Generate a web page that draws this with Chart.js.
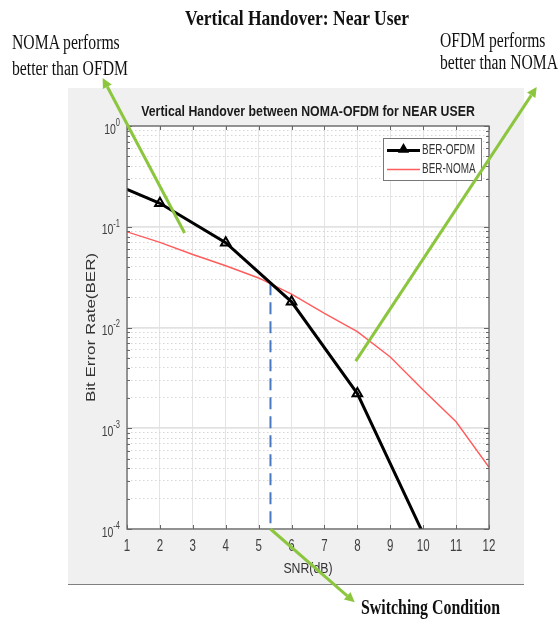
<!DOCTYPE html>
<html>
<head>
<meta charset="utf-8">
<title>Vertical Handover: Near User</title>
<script src="https://cdn.jsdelivr.net/npm/chart.js@4.4.0/dist/chart.umd.min.js"></script>
<style>
  body { margin: 0; background: #fff; }
  #page { position: relative; width: 559px; height: 621px; overflow: hidden; }
  #page canvas { position: absolute; left: 0; top: 0; }
  .note { position: absolute; font-family: "Liberation Serif", "Times New Roman", serif; color: #111; white-space: nowrap; transform-origin: 0 0; }
  .note.bold { font-weight: bold; }
</style>
</head>
<body>
<div id="page">
  <canvas id="berChart" width="559" height="621"></canvas>
  <div class="note bold" data-w="224" style="left:185px; top:5px; font-size:22px; line-height:26px;">Vertical Handover: Near User</div>
  <div class="note" data-w="116" style="left:12px; top:30px; font-size:20px; line-height:25.7px;">NOMA performs<br>better than OFDM</div>
  <div class="note" data-w="118" style="left:440px; top:28.6px; font-size:20.5px; line-height:22.3px;">OFDM performs<br>better than NOMA</div>
  <div class="note bold" data-w="139" style="left:361px; top:595px; font-size:20.5px; line-height:24px;">Switching Condition</div>
</div>
<script>
// BER against SNR (dB) for the near user
const snrOfdm = [0, 2, 4, 6, 8, 10];
const berOfdm = [0.324, 0.171, 0.0694, 0.018, 0.00221, 0.00009];
const snrNoma = [1, 2, 3, 4, 5, 6, 7, 8, 9, 10, 11, 12];
const berNoma = [0.089, 0.070, 0.053, 0.041, 0.031, 0.0214, 0.0138, 0.0091, 0.0051, 0.0024, 0.00116, 0.00041];
const seriesNames = ['BER-OFDM', 'BER-NOMA'];
const berDecades = [-4, -3, -2, -1, 0];

const chartTitle = 'Vertical Handover between NOMA-OFDM for NEAR USER';
const xTitle = 'SNR(dB)';
const yTitle = 'Bit Error Rate(BER)';

// switching condition: where the curves cross, dropped to the axis
const switchSnr = 5.36;
const switchBer = [0.0275, 0.0001];

// callout arrows as [tail, head] in axis units
const arrows = [
    [[2.75, 0.0866], [0.26, 3.0]],
    [[7.95, 0.00464], [13.45, 2.44]],
    [[5.36, 0.0001], [7.92, 1.87e-5]]
];

const sans = '"Liberation Sans", Arial, sans-serif';
const yMin = Math.pow(10, berDecades[0]);
const yMax = Math.pow(10, berDecades[berDecades.length - 1]);

// 1..9 x 10^d for every decade, like a matlab log axis
var yTicks = [];
berDecades.slice(0, -1).forEach(function (d) {
    for (var k = 1; k < 10; k++) yTicks.push(k * Math.pow(10, d));
});
yTicks.push(yMax);

function isDecade(v) {
    if (!v) return false;
    var l = Math.log10(v);
    return Math.abs(l - Math.round(l)) < 1e-6;
}

// matlab figure text comes out narrow, so squash it along the text
function narrowText(ctx, text, x, y, font, align, sx, rot) {
    ctx.save();
    ctx.font = font;
    ctx.textAlign = align;
    ctx.textBaseline = 'middle';
    ctx.translate(x, y);
    if (rot) {
        ctx.rotate(rot);
        ctx.scale(1, sx);
    } else {
        ctx.scale(sx, 1);
    }
    ctx.fillText(text, 0, 0);
    var w = ctx.measureText(text).width * sx;
    ctx.restore();
    return w;
}

function arrowLine(ctx, x1, y1, x2, y2) {
    var ang = Math.atan2(y2 - y1, x2 - x1);
    var len = 10, half = 5;
    var bx = x2 - Math.cos(ang) * len, by = y2 - Math.sin(ang) * len;
    ctx.beginPath();
    ctx.moveTo(x1, y1);
    ctx.lineTo(bx, by);
    ctx.stroke();
    ctx.beginPath();
    ctx.moveTo(x2, y2);
    ctx.lineTo(bx - Math.sin(ang) * half, by + Math.cos(ang) * half);
    ctx.lineTo(bx + Math.sin(ang) * half, by - Math.cos(ang) * half);
    ctx.closePath();
    ctx.fill();
}

function triangle(ctx, x, y, r) {
    ctx.beginPath();
    ctx.moveTo(x, y - r);
    ctx.lineTo(x + r * 0.866, y + r / 2);
    ctx.lineTo(x - r * 0.866, y + r / 2);
    ctx.closePath();
}

const figurePlugin = {
    id: 'figure',
    beforeDraw(chart) {
        const ctx = chart.ctx, a = chart.chartArea;
        ctx.save();
        ctx.fillStyle = '#f0f0f0';
        ctx.fillRect(68, 88, 456, 496);
        ctx.fillStyle = '#808080';
        ctx.fillRect(68, 584, 456, 1);
        ctx.fillStyle = '#fff';
        ctx.fillRect(a.left, a.top, a.right - a.left, a.bottom - a.top);
        ctx.restore();
    },
    afterDatasetsDraw(chart) {
        const ctx = chart.ctx, a = chart.chartArea;
        const xs = chart.scales.x, ys = chart.scales.y;
        const midX = (a.left + a.right) / 2;
        ctx.save();

        // axes box with inward ticks
        ctx.strokeStyle = '#666';
        ctx.lineWidth = 1.3;
        ctx.strokeRect(a.left, a.top, a.right - a.left, a.bottom - a.top);
        ctx.lineWidth = 1;
        ctx.beginPath();
        ys.ticks.forEach(function (t) {
            var py = Math.round(ys.getPixelForValue(t.value)) + 0.5;
            var len = isDecade(t.value) ? 5 : 3;
            ctx.moveTo(a.left, py); ctx.lineTo(a.left + len, py);
            ctx.moveTo(a.right, py); ctx.lineTo(a.right - len, py);
        });
        xs.ticks.forEach(function (t) {
            var px = Math.round(xs.getPixelForValue(t.value)) + 0.5;
            ctx.moveTo(px, a.bottom); ctx.lineTo(px, a.bottom - 4);
            ctx.moveTo(px, a.top); ctx.lineTo(px, a.top + 4);
        });
        ctx.stroke();

        // titles
        ctx.fillStyle = '#1a1a1a';
        narrowText(ctx, chartTitle, midX, a.top - 14, 'bold 15px ' + sans, 'center', 0.82);
        ctx.fillStyle = '#333';
        narrowText(ctx, xTitle, midX, a.bottom + 40, '15px ' + sans, 'center', 0.82);
        narrowText(ctx, yTitle, a.left - 36, (a.top + a.bottom) / 2, '17px ' + sans, 'center', 0.8, -Math.PI / 2);

        // tick labels, y as 10 with a raised exponent
        ctx.fillStyle = '#404040';
        xs.ticks.forEach(function (t) {
            narrowText(ctx, String(t.value), xs.getPixelForValue(t.value), a.bottom + 17.5, '16px ' + sans, 'center', 0.72);
        });
        berDecades.forEach(function (d) {
            var py = ys.getPixelForValue(Math.pow(10, d));
            var xr = a.left - 7;
            var ew = narrowText(ctx, String(d), xr, py - 3, '10px ' + sans, 'right', 0.75);
            narrowText(ctx, '10', xr - ew, py + 3.5, '15px ' + sans, 'right', 0.7);
        });

        // legend box, top right inside the axes
        var lx = a.right - 106, ly = a.top + 12, lw = 98, lh = 42;
        ctx.fillStyle = '#fff';
        ctx.fillRect(lx, ly, lw, lh);
        ctx.strokeStyle = '#777';
        ctx.lineWidth = 1;
        ctx.strokeRect(lx + 0.5, ly + 0.5, lw, lh);
        var rows = [ly + 12.5, ly + 31.5];
        chart.data.datasets.slice(0, 2).forEach(function (ds, i) {
            var ry = rows[i];
            ctx.strokeStyle = ds.borderColor;
            ctx.lineWidth = ds.borderWidth;
            ctx.beginPath();
            ctx.moveTo(lx + 4, ry);
            ctx.lineTo(lx + 37, ry);
            ctx.stroke();
            if (ds.pointStyle === 'triangle') {
                ctx.lineWidth = ds.pointBorderWidth;
                ctx.fillStyle = ds.pointBorderColor;
                triangle(ctx, lx + 20.5, ry - 1, 4.5);
                ctx.fill();
                ctx.stroke();
            }
            ctx.fillStyle = '#333';
            narrowText(ctx, ds.label, lx + 39, ry, '14px ' + sans, 'left', 0.71);
        });

        // green callout arrows
        ctx.strokeStyle = '#8cc63f';
        ctx.fillStyle = '#8cc63f';
        ctx.lineWidth = 3;
        arrows.forEach(function (ar) {
            arrowLine(ctx,
                xs.getPixelForValue(ar[0][0]), ys.getPixelForValue(ar[0][1]),
                xs.getPixelForValue(ar[1][0]), ys.getPixelForValue(ar[1][1]));
        });
        ctx.restore();
    }
};

const ofdmPoints = snrOfdm.map(function (s, i) { return { x: s, y: berOfdm[i] }; });
const nomaPoints = snrNoma.map(function (s, i) { return { x: s, y: berNoma[i] }; });
const switchPoints = switchBer.map(function (b) { return { x: switchSnr, y: b }; });

var berChart = new Chart(document.getElementById('berChart').getContext('2d'), {
    type: 'line',
    data: {
        datasets: [{
            label: seriesNames[0],
            data: ofdmPoints,
            borderColor: '#000',
            borderWidth: 3,
            pointStyle: 'triangle',
            pointRadius: function (c) { return c.raw && c.raw.y < yMin ? 0 : 5.5; },
            pointBorderWidth: 2,
            pointBorderColor: '#000',
            pointBackgroundColor: 'rgba(0,0,0,0)',
            tension: 0
        }, {
            label: seriesNames[1],
            data: nomaPoints,
            borderColor: '#ff5c5c',
            borderWidth: 1.4,
            pointRadius: 0,
            tension: 0
        }, {
            label: 'switch',
            data: switchPoints,
            borderColor: '#4878c0',
            borderWidth: 2,
            borderDash: [12, 7],
            pointRadius: 0
        }]
    },
    options: {
        responsive: false,
        animation: false,
        devicePixelRatio: 1,
        layout: { padding: { left: 79, right: 70, top: 126, bottom: 43 } },
        scales: {
            x: {
                type: 'linear',
                min: 1,
                max: 12,
                ticks: { stepSize: 1, display: false },
                grid: { color: '#e4e4e4', lineWidth: 1, drawTicks: false },
                border: { display: false },
                afterFit: function (s) { s.height = 49; }
            },
            y: {
                type: 'logarithmic',
                min: yMin,
                max: yMax,
                afterBuildTicks: function (s) { s.ticks = yTicks.map(function (v) { return { value: v }; }); },
                ticks: { display: false },
                grid: {
                    color: function (c) { return c.tick && isDecade(c.tick.value) ? '#e2e2e2' : '#d6d6d6'; },
                    lineWidth: function (c) { return c.tick && isDecade(c.tick.value) ? 1.8 : 1; },
                    drawTicks: false
                },
                border: {
                    display: false,
                    dash: function (c) { return c.tick && !isDecade(c.tick.value) ? [1.5, 2.5] : []; }
                },
                afterFit: function (s) { s.width = 48; }
            }
        },
        plugins: {
            legend: { display: false },
            tooltip: { enabled: false }
        }
    },
    plugins: [figurePlugin]
});

// squeeze the serif callouts to their set widths
document.querySelectorAll('.note').forEach(function (el) {
    var w = parseFloat(el.dataset.w);
    el.style.transform = 'scaleX(' + (w / el.getBoundingClientRect().width) + ')';
});
</script>
</body>
</html>
